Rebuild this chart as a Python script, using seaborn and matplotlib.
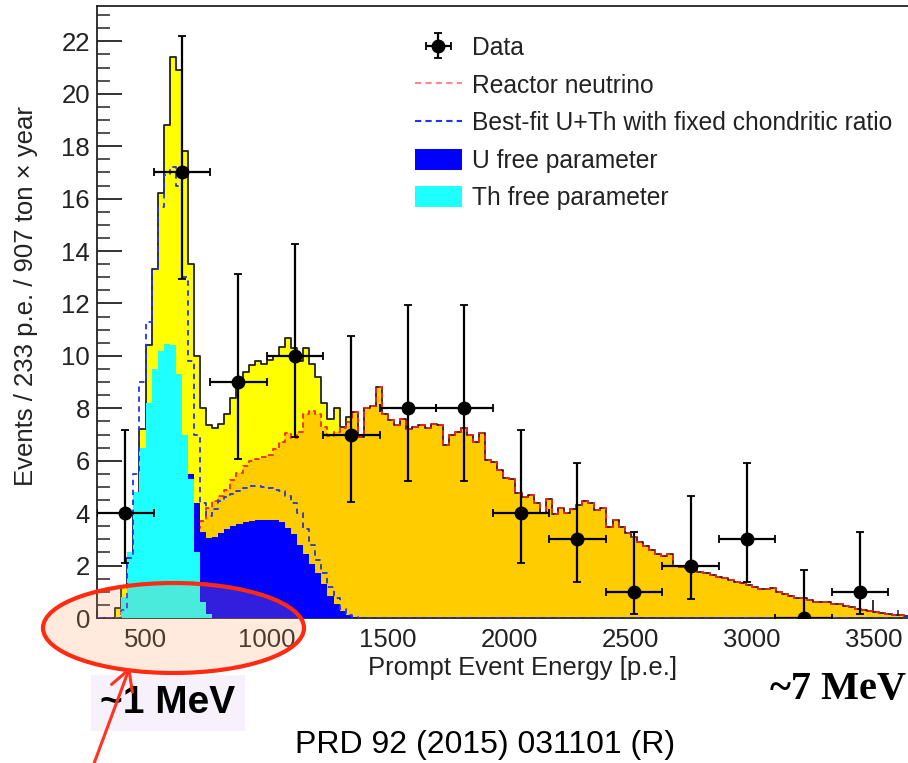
import numpy as np
import pandas as pd
import matplotlib
matplotlib.use("Agg")
import matplotlib.pyplot as plt
import seaborn as sns
from matplotlib.patches import Ellipse, Patch, FancyArrowPatch
from matplotlib.lines import Line2D
from matplotlib.ticker import MultipleLocator

# ---------------- data ----------------
bin_lo = 300.0          # first histogram edge [p.e.]
bin_w = 25.0            # MC histogram bin width [p.e.]

total_vals = [0, 0, 0, 0.4, 1.2, 2.3, 4.0, 7.2, 10.4, 13.3, 16.2, 18.8, 21.4, 20.9, 17.8, 13.5,
              10.0, 8.0, 7.35, 7.25, 7.4, 7.8, 8.4, 8.9, 9.4, 9.65, 9.8, 9.7, 9.85, 10.0, 10.34,
              10.7, 10.3, 9.8, 10.3, 9.7, 9.2, 8.2, 7.6, 8.0, 7.3, 7.65,
              7.87, 6.92, 8.0, 8.07, 8.83, 7.8, 7.56, 7.37, 7.58, 7.2, 7.3, 7.37, 7.24, 7.39, 7.37,
              6.6, 6.98, 7.11, 7.24, 7.0, 6.73, 7.05, 6.03, 5.95, 5.65, 5.33, 5.3, 4.76, 4.63, 4.7,
              4.38, 4.0, 4.55, 3.95, 4.2, 4.0, 4.15, 4.32, 4.45, 4.38, 4.13, 4.2, 3.48, 3.73, 3.48,
              3.23, 3.1, 2.9, 2.75, 2.6, 2.45, 2.35, 2.45, 2.0, 1.95, 1.9, 1.82, 1.75, 1.72, 1.65,
              1.58, 1.52, 1.45, 1.38, 1.33, 1.26, 1.18, 1.1, 1.12, 1.15, 0.98, 0.92, 0.85, 0.78,
              0.75, 0.7, 0.62, 0.62, 0.6, 0.55, 0.52, 0.45, 0.42, 0.35, 0.3, 0.26, 0.22, 0.19,
              0.15, 0.12, 0.1, 0.07]

reactor_vals = [0, 0, 0, 0, 0.2, 0.5, 0.9, 1.3, 1.7, 2.0, 2.3, 2.6, 2.8, 3.0, 3.15, 3.3,
                3.45, 3.7, 4.2, 4.45, 4.65, 4.9, 5.27, 5.55, 5.8, 6.0, 6.05, 6.15, 6.2, 6.45, 6.7,
                7.05, 6.85, 7.1, 7.8, 7.9, 7.8, 7.3, 6.95, 7.1, 7.24, 7.49,
                7.87, 6.92, 8.0, 8.07, 8.83, 7.8, 7.56, 7.37, 7.58, 7.2, 7.3, 7.37, 7.24, 7.39, 7.37,
                6.6, 6.98, 7.11, 7.24, 7.0, 6.73, 7.05, 6.03, 5.95, 5.65, 5.33, 5.3, 4.76, 4.63, 4.7,
                4.38, 4.0, 4.55, 3.95, 4.2, 4.0, 4.15, 4.32, 4.45, 4.38, 4.13, 4.2, 3.48, 3.73, 3.48,
                3.23, 3.1, 2.9, 2.75, 2.6, 2.45, 2.35, 2.45, 2.0, 1.95, 1.9, 1.82, 1.75, 1.72, 1.65,
                1.58, 1.52, 1.45, 1.38, 1.33, 1.26, 1.18, 1.1, 1.12, 1.15, 0.98, 0.92, 0.85, 0.78,
                0.75, 0.7, 0.62, 0.62, 0.6, 0.55, 0.52, 0.45, 0.42, 0.35, 0.3, 0.26, 0.22, 0.19,
                0.15, 0.12, 0.1, 0.07]

geo_fixed_vals = [0.0] * 4 + [0.3, 2.3, 5.5, 9.0, 11.3, 13.3, 15.7, 16.9, 17.2, 16.5, 13.0, 9.8,
                              7.0, 4.4, 3.9, 4.15, 4.45, 4.6, 4.75, 4.85, 4.95, 5.05, 5.05, 5.0,
                              4.95, 4.9, 4.85, 4.65, 4.4, 4.0, 3.4, 2.8, 2.2, 1.7, 1.2, 0.75, 0.35,
                              0.12, 0.03] + [0.0] * 91

u_vals = [0.0] * 4 + [0.3, 1.0, 1.8, 2.6, 3.4, 4.2, 5.0, 5.7, 6.3, 6.6, 6.6, 5.5, 4.4, 3.3, 3.05,
                      3.1, 3.25, 3.4, 3.5, 3.6, 3.65, 3.7, 3.73, 3.75, 3.75, 3.72, 3.65, 3.45, 3.2,
                      2.8, 2.45, 2.05, 1.7, 1.3, 0.85, 0.55, 0.25, 0.1, 0.03] + [0.0] * 91

th_vals = [0.0] * 4 + [0.8, 2.5, 4.8, 6.5, 8.2, 9.5, 10.2, 10.45, 10.4, 9.3, 7.0, 5.3, 2.5, 0.6,
                       0.15] + [0.0] * 115

data_bin_w = 233.0
data_x = [416.5, 649.5, 882.5, 1115.5, 1348.5, 1581.5, 1814.5, 2047.5, 2280.5, 2513.5,
          2746.5, 2979.5, 3212.5, 3445.5]
data_y = [4, 17, 9, 10, 7, 8, 8, 4, 3, 1, 2, 3, 0, 1]
err_lo = [1.91, 4.07, 2.94, 3.11, 2.58, 2.77, 2.77, 1.91, 1.63, 0.83, 1.29, 1.63, 0.0, 0.83]
err_hi = [3.16, 5.20, 4.11, 4.26, 3.77, 3.95, 3.95, 3.16, 2.92, 2.30, 2.64, 2.92, 1.84, 2.30]

legend_labels = ["Data", "Reactor neutrino", "Best-fit U+Th with fixed chondritic ratio",
                 "U free parameter", "Th free parameter"]

# ---------------- build table ----------------
nb = len(reactor_vals)
edges = [bin_lo + bin_w * k for k in range(nb + 1)]
centers = [0.5 * (edges[k] + edges[k + 1]) for k in range(nb)]
df = pd.DataFrame({"E": centers, "total": total_vals, "reactor": reactor_vals,
                   "geo": geo_fixed_vals, "U": u_vals, "Th": th_vals})

# ---------------- figure ----------------
sns.set_theme(style="white")
plt.rcParams["font.family"] = ["Liberation Sans", "DejaVu Sans"]
plt.rcParams["axes.linewidth"] = 1.3

FS = 18.5
LFS = 17.7
W, H = 908, 763
fig = plt.figure(figsize=(W / 100, H / 100), dpi=100)
ax = fig.add_axes([97 / W, 1 - 618 / H, 811 / W, 612 / H])

YEL, ORA, UCOL, THCOL = "#ffff00", "#ffcc00", "#0000ff", "#1effff"


def hist(col, **kw):
    sns.histplot(data=df, x="E", weights=col, bins=edges, element="step", stat="count",
                 ax=ax, legend=False, **kw)


hist("total", fill=True, color=YEL, alpha=1, linewidth=0, zorder=1)
hist("reactor", fill=True, color=ORA, alpha=1, linewidth=0, zorder=2)
hist("total", fill=False, color="#222222", linewidth=1.3, zorder=3)
hist("reactor", fill=False, color="#ff2020", linewidth=1.3, linestyle=(0, (3, 2)), zorder=4)
hist("U", fill=True, color=UCOL, alpha=1, linewidth=0, zorder=5)
hist("Th", fill=True, color=THCOL, alpha=1, linewidth=0, zorder=6)
hist("geo", fill=False, color="#2233ee", linewidth=1.3, linestyle=(0, (3, 2.5)), zorder=7)

eb = ax.errorbar(data_x, data_y, xerr=data_bin_w / 2, yerr=[err_lo, err_hi], fmt="o",
                 color="black", ms=9, elinewidth=1.6, capsize=3, capthick=1.3, zorder=10)

ax.set_xlim(300, 3643)
ax.set_ylim(0, 23.35)
ax.xaxis.set_major_locator(MultipleLocator(500))
ax.xaxis.set_minor_locator(MultipleLocator(100))
ax.yaxis.set_major_locator(MultipleLocator(2))
ax.yaxis.set_minor_locator(MultipleLocator(0.5))
ax.tick_params(axis="both", which="both", direction="in", colors="#222222", labelsize=FS)
ax.tick_params(axis="y", which="major", length=18, width=1.3, pad=5)
ax.tick_params(axis="y", which="minor", length=9, width=1.1)
ax.tick_params(axis="x", which="major", length=13, width=1.3, pad=7)
ax.tick_params(axis="x", which="minor", length=6, width=1.1)
ax.tick_params(left=True, bottom=True, which="both")
ax.spines["right"].set_visible(False)
for s in ["left", "bottom", "top"]:
    ax.spines[s].set_color("#222222")

ax.set_xlabel("Prompt Event Energy [p.e.]", fontsize=FS, color="#222222")
ax.set_ylabel("Events / 233 p.e. / 907 ton \u00d7 year", fontsize=FS, color="#222222")
ax.xaxis.set_label_coords(0.525, -0.062)
ax.yaxis.set_label_coords(-0.0875, 0.526)
ax.yaxis.label.set_va("center")

handles = [eb,
           Line2D([], [], color="#ff8888", lw=1.5, ls=(0, (3, 2))),
           Line2D([], [], color="#2233ee", lw=1.5, ls=(0, (3, 2))),
           Patch(facecolor=UCOL, edgecolor="none"),
           Patch(facecolor=THCOL, edgecolor="none")]
leg = ax.legend(handles, legend_labels, loc="upper left",
                bbox_to_anchor=(415 / W, 1 - 36 / H), bbox_transform=fig.transFigure,
                frameon=False, fontsize=LFS, handlelength=1.9, handleheight=0.95,
                handletextpad=0.4, labelspacing=0.55, borderpad=0, borderaxespad=0)
for t in leg.get_texts():
    t.set_color("#222222")

# ---------------- annotations ----------------
ell = Ellipse((173.5 / W, 1 - 628 / H), 261 / W, 90 / H, transform=fig.transFigure,
              facecolor=(1.0, 0.6, 0.35, 0.2), edgecolor="#ff2a10", lw=3, zorder=20)
fig.add_artist(ell)

fig.text(168 / W, 1 - 703 / H, "~1 MeV", fontsize=28, fontweight="bold", ha="center",
         va="center", color="black", zorder=21,
         bbox=dict(boxstyle="square,pad=0.25", fc="#f6f1fa", ec="none"))
arrow = FancyArrowPatch((86 / W, 1 - 785 / H), (131 / W, 1 - 664 / H),
                        transform=fig.transFigure,
                        arrowstyle="->,head_length=9,head_width=5", color="#ff3322",
                        lw=2.2, zorder=25, mutation_scale=1.6)
fig.add_artist(arrow)
fig.text(838 / W, 1 - 690 / H, "~7 MeV", fontsize=29, fontweight="bold",
         family=["Liberation Serif", "DejaVu Serif"], ha="center", va="center", color="black")
fig.text(485 / W, 1 - 745 / H, "PRD 92 (2015) 031101 (R)", fontsize=23, ha="center",
         va="center", color="black")

fig.savefig("out.png", dpi=100)
